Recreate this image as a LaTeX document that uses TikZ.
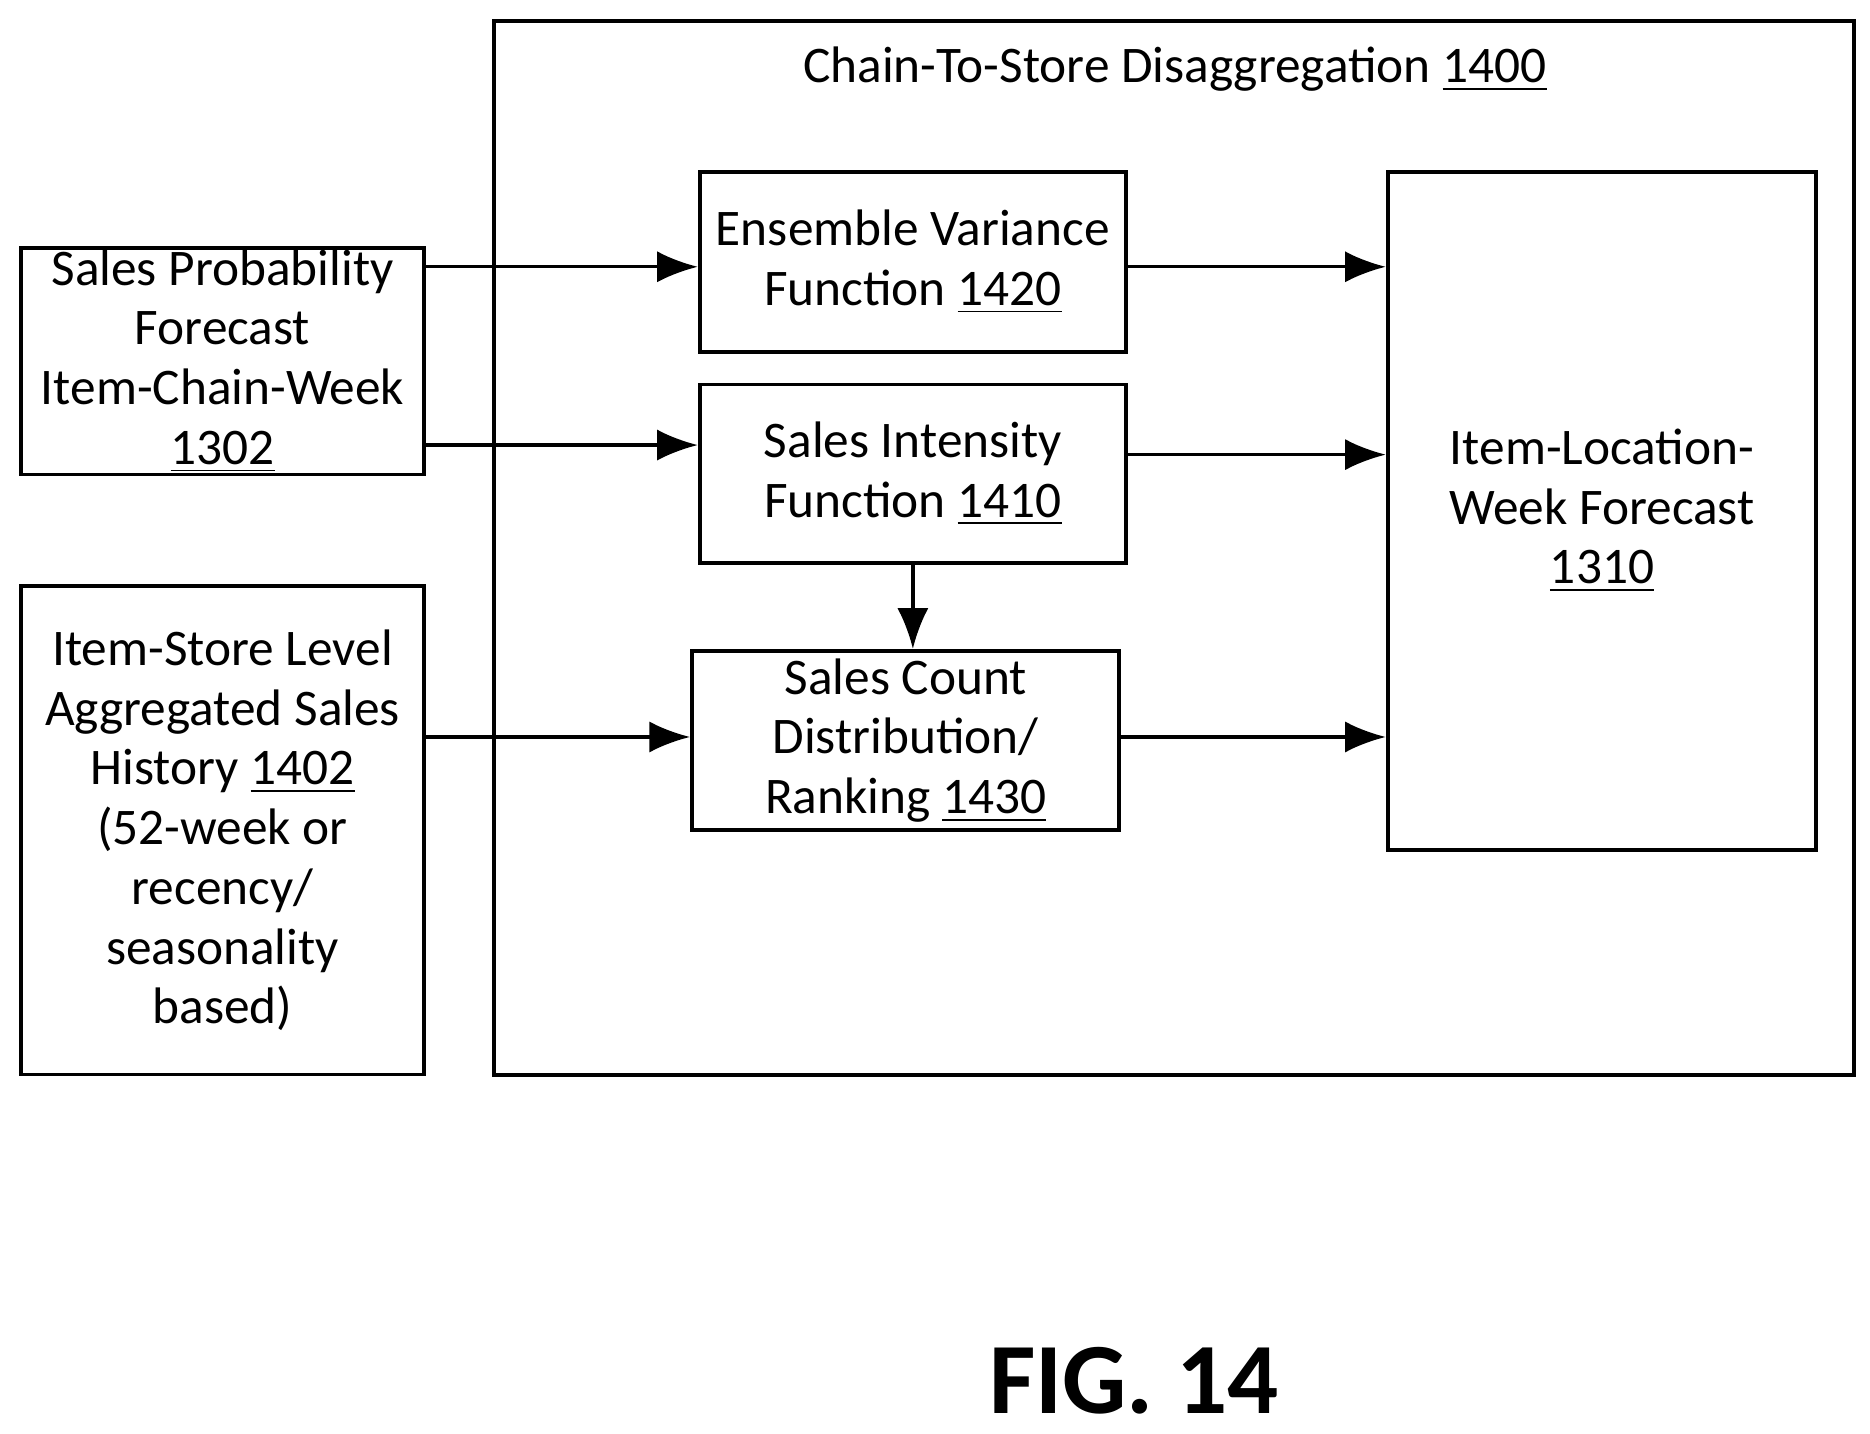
\documentclass[tikz,border=0pt]{standalone}
\usepackage{fontspec}
\setmainfont{Carlito}
\usetikzlibrary{arrows.meta}
\tikzset{
  blk/.style={draw,line width=0.9pt,align=center,inner sep=0pt,font=\fontsize{12.2}{14.2}\selectfont},
  flow/.style={-{Latex[length=3.4mm,width=2.6mm]},line width=0.8pt}
}
\begin{document}
\begin{tikzpicture}[x=0.01cm,y=-0.01cm]
  \useasboundingbox (0,0) rectangle (1563,1198);
  % outer frame
  \node (frame) at (981,458) [blk,minimum width=11.36cm,minimum height=8.8cm] {};
  \node (title) at (982,58) [font=\fontsize{12.2}{14.2}\selectfont] {Chain-To-Store Disaggregation \underline{1400}};
  % inputs
  \node (sp) at (186,302) [blk,minimum width=3.37cm,minimum height=1.89cm] {Sales Probability\\Forecast\\Item-Chain-Week\\\underline{1302}};
  \node (hist) at (186,694) [blk,minimum width=3.37cm,minimum height=4.08cm] {Item-Store Level\\Aggregated Sales\\History \underline{1402}\\(52-week or\\recency/\\seasonality\\based)};
  % functions
  \node (ens) at (763,219) [blk,minimum width=3.56cm,minimum height=1.5cm] {Ensemble Variance\\Function \underline{1420}};
  \node (int) at (763,396) [blk,minimum width=3.56cm,minimum height=1.49cm] {Sales Intensity\\Function \underline{1410}};
  \node (cnt) at (757,619) [blk,minimum width=3.57cm,minimum height=1.5cm] {Sales Count\\Distribution/\\Ranking \underline{1430}};
  % output
  \node (out) at (1339,427) [blk,minimum width=3.58cm,minimum height=5.66cm] {Item-Location-\\Week Forecast\\\underline{1310}};
  % connectors
  \draw[flow] (sp.east |- 0,223) -- (ens.west |- 0,223);
  \draw[flow] (sp.east |- 0,372) -- (int.west |- 0,372);
  \draw[flow] (hist.east |- 0,616) -- (cnt.west |- 0,616);
  \draw[flow] (ens.east |- 0,223) -- (out.west |- 0,223);
  \draw[flow] (int.east |- 0,380) -- (out.west |- 0,380);
  \draw[flow] (cnt.east |- 0,616) -- (out.west |- 0,616);
  \draw[flow] (int.south) -- (int.south |- cnt.north);
  \node (fig) at (948,1154) [font=\fontsize{24}{27}\selectfont\bfseries] {FIG. 14};
\end{tikzpicture}
\end{document}
